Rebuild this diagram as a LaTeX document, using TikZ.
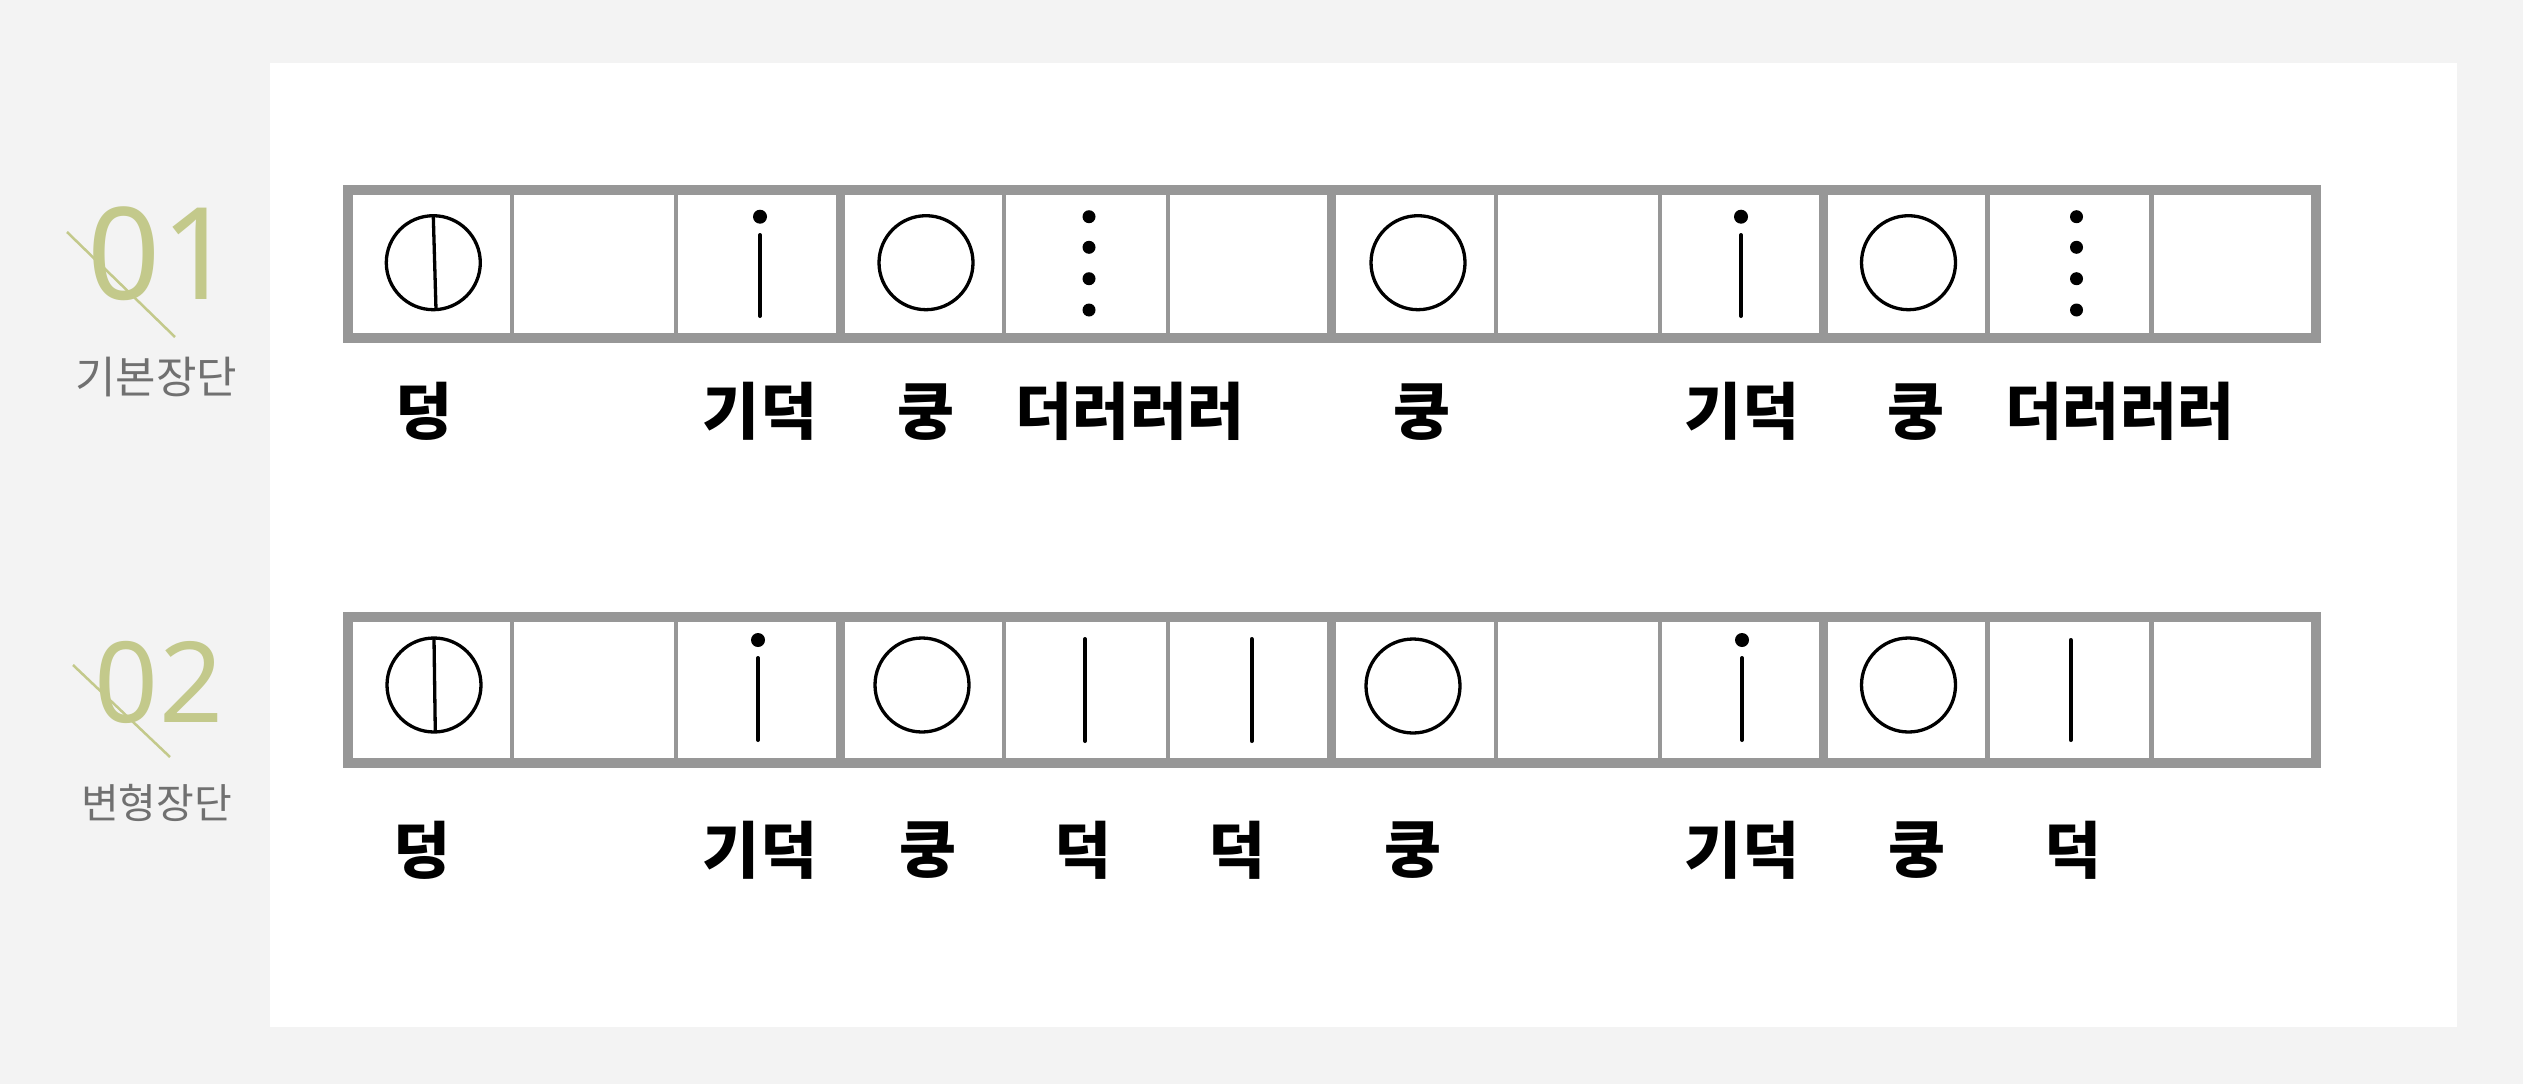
\documentclass[tikz,border=0pt]{standalone}
\usepackage{fontspec}
\newfontfamily\krfont{Noto Sans CJK KR}
\newfontfamily\numfont{Noto Sans}
\definecolor{bgcol}{HTML}{F3F3F3}
\definecolor{framecol}{HTML}{979797}
\definecolor{olive}{HTML}{C3C98B}
\definecolor{greytext}{HTML}{707070}
\begin{document}
\begin{tikzpicture}[x=1pt,y=-1pt,
  thinrule/.style={framecol,line width=4.5pt},
  thickrule/.style={framecol,line width=9pt},
  outerrule/.style={framecol,line width=10pt},
  ring/.style={line width=3.3pt},
  bar/.style={line width=4pt,line cap=round},
  beat/.style={font=\krfont\bfseries\fontsize{62}{68}\selectfont,inner sep=0pt,anchor=center},
  numlabel/.style={font=\numfont\fontsize{#1}{#1}\selectfont,text=olive,inner sep=0pt},
  title/.style={font=\krfont\fontsize{#1}{#1}\selectfont,text=greytext,inner sep=0pt},
  slash/.style={olive,line width=2.5pt}]
\useasboundingbox (0,0) rectangle (2523,1084);
\fill[bgcol] (0,0) rectangle (2523,1084);
\fill[white] (270,63) rectangle (2457,1027);

% frames
\foreach \t/\b in {190/338.3,616.5/763}{
  \foreach \i in {1,2,4,5,7,8,10,11}
    \draw[thinrule] (348.3+\i*163.93,\t) -- (348.3+\i*163.93,\b);
  \foreach \i in {3,6,9}
    \draw[thickrule] (348.3+\i*163.93,\t) -- (348.3+\i*163.93,\b);
  \draw[outerrule] (348.3,\t) rectangle (2315.5,\b);
}

% row 1 symbols
\draw[ring] (433.3,262.7) circle (47);
\draw[ring] (433.3,216) -- (436,309.5);
\fill (760,216.7) circle (7);
\draw[bar] (760,235) -- (760,316);
\draw[ring] (926,262.7) circle (47);
\foreach \y in {216.7,247.3,278.7,310} \fill (1089,\y) circle (6.5);
\draw[ring] (1418,262.7) circle (47);
\fill (1741,216.7) circle (7);
\draw[bar] (1741,235) -- (1741,316);
\draw[ring] (1908.5,262.7) circle (47);
\foreach \y in {216.7,247.3,278.7,310} \fill (2076.5,\y) circle (6.5);

% row 2 symbols
\draw[ring] (434,685) circle (47);
\draw[ring] (434,638.5) -- (435.3,732);
\fill (758,640) circle (7);
\draw[bar] (758,658) -- (758,740);
\draw[ring] (922,685) circle (47);
\draw[bar] (1085,639) -- (1085,741);
\draw[bar] (1251.7,639) -- (1251.7,741);
\draw[ring] (1413,686) circle (47);
\fill (1742,640) circle (7);
\draw[bar] (1742,658) -- (1742,740);
\draw[ring] (1908.5,685) circle (47);
\draw[bar] (2070.7,640) -- (2070.7,740);

% row 1 labels
\node[beat] (a1) at (424.5,411) {덩};
\node[beat] (a3) at (760,411) {기덕};
\node[beat] (a4) at (926.5,412) {쿵};
\node[beat] (a5) at (1130,411) {더러러러};
\node[beat] (a7) at (1422,412) {쿵};
\node[beat] (a9) at (1742,411) {기덕};
\node[beat] (a10) at (1915.5,412) {쿵};
\node[beat] (a11) at (2120,411) {더러러러};

% row 2 labels
\node[beat] (b1) at (422,850) {덩};
\node[beat] (b3) at (760,850) {기덕};
\node[beat] (b4) at (928,850) {쿵};
\node[beat] (b5) at (1083,850) {덕};
\node[beat] (b6) at (1237,850) {덕};
\node[beat] (b7) at (1413,850) {쿵};
\node[beat] (b9) at (1742,850) {기덕};
\node[beat] (b10) at (1917,850) {쿵};
\node[beat] (b11) at (2072.5,850) {덕};

% left titles
\node[numlabel=128] (n1) at (161,254) {01};
\draw[slash] (67,232) -- (175,337);
\node[title=44] (t1) at (156,377) {기본장단};
\node[numlabel=112] (n2) at (159,682.5) {02};
\draw[slash] (73,665) -- (170,757);
\node[title=41] (t2) at (156.5,803) {변형장단};
\end{tikzpicture}
\end{document}
